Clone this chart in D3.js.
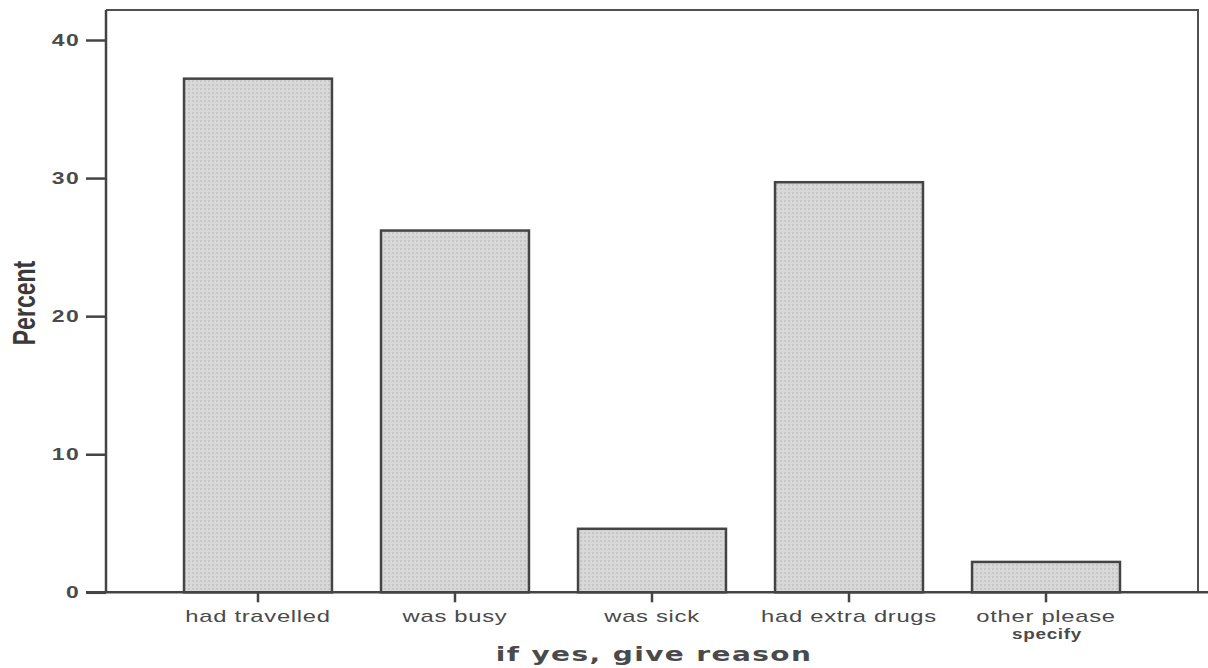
<!DOCTYPE html>
<html><head><meta charset="utf-8">
<script src="https://cdn.jsdelivr.net/npm/d3@7"></script>
<style>body{margin:0;background:#fff}svg{display:block}</style>
</head><body>
<svg id="c" width="1208" height="668"></svg>
<script>
const categories = ["had travelled","was busy","was sick","had extra drugs","other please specify"];
const values = [37.2, 26.2, 4.6, 29.7, 2.2];
const yTicks = [0,10,20,30,40];
const yLabel = "Percent";
const xLabel = "if yes, give reason";

(function(){
const svg = d3.select("#c");
const mLeft=106, mRight=1198, mTop=10, mBottom=592.3;
const x = d3.scaleBand().domain(categories).range([mLeft,mRight]).paddingInner(0.249).paddingOuter(0.396);
const y = d3.scaleLinear().domain([0,40]).range([mBottom,40]);

const defs = svg.append("defs");
const pat = defs.append("pattern").attr("id","dots").attr("width",4).attr("height",4).attr("patternUnits","userSpaceOnUse");
pat.append("rect").attr("width",4).attr("height",4).attr("fill","#d8d8d8");
pat.append("rect").attr("x",0).attr("y",0).attr("width",2).attr("height",2).attr("fill","#c6c6c6");

svg.append("path").attr("d",`M${mLeft},${mTop}H${mRight}V${mBottom}`).attr("fill","none").attr("stroke","#505050").attr("stroke-width",2);

svg.selectAll("rect.bar").data(categories).join("rect").attr("class","bar")
  .attr("x",d=>x(d)).attr("width",x.bandwidth())
  .attr("y",(d,i)=>y(values[i])).attr("height",(d,i)=>mBottom-y(values[i]))
  .attr("fill","url(#dots)").attr("stroke","#444").attr("stroke-width",2.5);

const ya = svg.append("g").attr("transform",`translate(${mLeft},0)`)
  .call(d3.axisLeft(y).tickValues(yTicks).tickSize(20).tickPadding(6).tickFormat(d3.format("d")));
ya.select(".domain").attr("stroke","#444").attr("stroke-width",2.5).attr("d",`M0,${mBottom}V${mTop}`);
ya.selectAll(".tick line").attr("stroke","#444").attr("stroke-width",2.5);
ya.selectAll(".tick text").attr("fill","#4a4a4a").attr("font-family","Liberation Sans, Arial, sans-serif")
  .attr("font-size",17).attr("font-weight","bold").attr("letter-spacing","1px")
  .attr("text-anchor","end")
  .attr("transform",function(){ const xx=+d3.select(this).attr("x"); return `translate(${xx},0) scale(1.35,1) translate(${-xx},0)`; });

const xa = svg.append("g").attr("transform",`translate(0,${mBottom})`)
  .call(d3.axisBottom(x).tickSize(10).tickPadding(6).tickFormat(""));
xa.select(".domain").attr("stroke","#444").attr("stroke-width",2.5).attr("d",`M${mLeft-20},0H1208`);
xa.selectAll(".tick line").attr("stroke","#444").attr("stroke-width",2.5);

const lab = svg.append("g").attr("font-family","Liberation Sans, Arial, sans-serif").attr("fill","#4a4a4a").attr("text-anchor","middle");
categories.forEach((c,i)=>{
  const cx = x(c)+x.bandwidth()/2;
  if(c==="other please specify"){
    lab.append("text").attr("transform",`translate(${cx},622) scale(1.4,1)`).attr("font-size",17).attr("letter-spacing","0.5px").text("other please");
    lab.append("text").attr("transform",`translate(${cx+1},639) scale(1.35,1)`).attr("font-size",14).attr("font-weight","bold").attr("letter-spacing","0.5px").text("specify");
  } else {
    lab.append("text").attr("transform",`translate(${cx},622) scale(1.4,1)`).attr("font-size",17).attr("letter-spacing","0.5px").text(c);
  }
});

svg.append("text").attr("text-anchor","middle")
  .attr("font-family","Liberation Sans Narrow, Liberation Sans, Arial, sans-serif").attr("font-size",32).attr("fill","#3a3a3a").attr("font-weight","bold")
  .attr("transform","translate(35,303) rotate(-90) scale(0.72,1)").text(yLabel);

svg.append("text").attr("text-anchor","middle")
  .attr("transform","translate(654,661) scale(1.4,1)")
  .attr("font-family","DejaVu Sans, sans-serif").attr("font-weight","bold").attr("font-size",20).attr("fill","#4a4a4a").attr("letter-spacing","1px")
  .text(xLabel);
})();
</script>
</body></html>
